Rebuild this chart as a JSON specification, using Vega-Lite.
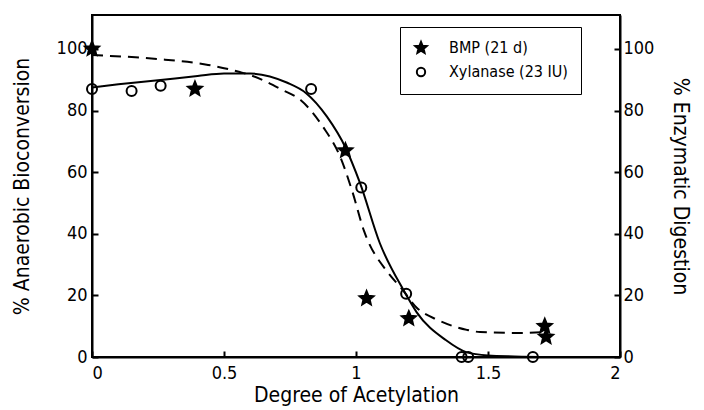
{
  "$schema": "https://vega.github.io/schema/vega-lite/v6.json",
  "width": 528,
  "height": 342,
  "autosize": "none",
  "padding": {"left": 92, "top": 15, "right": 84, "bottom": 53},
  "background": "white",
  "config": {
    "font": "Liberation Sans Narrow, DejaVu Sans Condensed, sans-serif",
    "view": {"stroke": "black", "strokeWidth": 2},
    "axis": {
      "domainColor": "black", "domainWidth": 2, "tickColor": "black", "tickWidth": 2,
      "tickSize": -6, "grid": false, "labelColor": "black", "labelFontSize": 18,
      "titleColor": "black", "titleFontSize": 21, "titleFontWeight": "normal",
      "labelFont": "Liberation Sans Narrow, DejaVu Sans Condensed, sans-serif",
      "titleFont": "Liberation Sans Narrow, DejaVu Sans Condensed, sans-serif"
    }
  },
  "datasets": {
    "pts": [
      {"dac": 0, "pct": 100, "series": "BMP (21 d)"},
      {"dac": 0.39, "pct": 87, "series": "BMP (21 d)"},
      {"dac": 0.96, "pct": 67, "series": "BMP (21 d)"},
      {"dac": 1.04, "pct": 19, "series": "BMP (21 d)"},
      {"dac": 1.2, "pct": 12.5, "series": "BMP (21 d)"},
      {"dac": 1.715, "pct": 10, "series": "BMP (21 d)"},
      {"dac": 1.72, "pct": 6.5, "series": "BMP (21 d)"},
      {"dac": 0, "pct": 87, "series": "Xylanase (23 IU)"},
      {"dac": 0.15, "pct": 86.3, "series": "Xylanase (23 IU)"},
      {"dac": 0.26, "pct": 88, "series": "Xylanase (23 IU)"},
      {"dac": 0.83, "pct": 87, "series": "Xylanase (23 IU)"},
      {"dac": 1.02, "pct": 55, "series": "Xylanase (23 IU)"},
      {"dac": 1.19, "pct": 20.5, "series": "Xylanase (23 IU)"},
      {"dac": 1.4, "pct": 0, "series": "Xylanase (23 IU)"},
      {"dac": 1.425, "pct": 0, "series": "Xylanase (23 IU)"},
      {"dac": 1.67, "pct": 0, "series": "Xylanase (23 IU)"}
    ],
    "solid": [
      {"dac": 0, "pct": 87.5}, {"dac": 0.1, "pct": 88.5}, {"dac": 0.25, "pct": 89.8},
      {"dac": 0.4, "pct": 91.2}, {"dac": 0.5, "pct": 92}, {"dac": 0.6, "pct": 92},
      {"dac": 0.74, "pct": 89}, {"dac": 0.81, "pct": 85.7}, {"dac": 0.89, "pct": 78},
      {"dac": 0.96, "pct": 68}, {"dac": 1.015, "pct": 56.5}, {"dac": 1.09, "pct": 37},
      {"dac": 1.18, "pct": 21.7}, {"dac": 1.23, "pct": 14.5}, {"dac": 1.34, "pct": 5.5},
      {"dac": 1.42, "pct": 1.5}, {"dac": 1.5, "pct": 0.5}, {"dac": 1.6, "pct": 0.2},
      {"dac": 1.75, "pct": 0}
    ],
    "dashed": [
      {"dac": 0, "pct": 98}, {"dac": 0.25, "pct": 96.7}, {"dac": 0.44, "pct": 94.8},
      {"dac": 0.56, "pct": 92.5}, {"dac": 0.6, "pct": 91.5}, {"dac": 0.72, "pct": 86.7},
      {"dac": 0.79, "pct": 83.4}, {"dac": 0.875, "pct": 74.7}, {"dac": 0.94, "pct": 65},
      {"dac": 0.985, "pct": 54}, {"dac": 1.03, "pct": 41}, {"dac": 1.12, "pct": 27.5},
      {"dac": 1.17, "pct": 22.5}, {"dac": 1.23, "pct": 16}, {"dac": 1.31, "pct": 12},
      {"dac": 1.42, "pct": 8.8}, {"dac": 1.47, "pct": 8.1}, {"dac": 1.61, "pct": 7.8},
      {"dac": 1.71, "pct": 8.1}
    ]
  },
  "resolve": {"axis": {"y": "independent"}},
  "layer": [
    {
      "data": {"name": "solid"},
      "mark": {"type": "line", "color": "black", "strokeWidth": 2, "interpolate": "monotone"},
      "encoding": {
        "x": {"field": "dac", "type": "quantitative", "scale": {"domain": [0, 2], "nice": false},
              "axis": {"title": "Degree of Acetylation", "values": [0, 0.5, 1, 1.5, 2], "format": "~g", "labelPadding": 13, "titlePadding": 2}},
        "y": {"field": "pct", "type": "quantitative", "scale": {"domain": [0, 111], "nice": false},
              "axis": {"title": "% Anaerobic Bioconversion", "values": [0, 20, 40, 60, 80, 100], "labelPadding": 11, "titlePadding": 24}}
      }
    },
    {
      "data": {"name": "dashed"},
      "mark": {"type": "line", "color": "black", "strokeWidth": 2, "strokeDash": [11, 7], "interpolate": "monotone"},
      "encoding": {
        "x": {"field": "dac", "type": "quantitative"},
        "y": {"field": "pct", "type": "quantitative",
              "axis": {"orient": "right", "title": "% Enzymatic Digestion", "values": [0, 20, 40, 60, 80, 100], "labelPadding": 9, "titlePadding": 16}}
      }
    },
    {
      "data": {"name": "pts"},
      "mark": {"type": "point", "stroke": "black", "strokeWidth": 2, "opacity": 1, "size": 100},
      "encoding": {
        "x": {"field": "dac", "type": "quantitative"},
        "y": {"field": "pct", "type": "quantitative", "axis": null},
        "shape": {"field": "series", "type": "nominal",
                  "scale": {"domain": ["BMP (21 d)", "Xylanase (23 IU)"],
                            "range": ["M0,-1.45L0.384,-0.528L1.379,-0.448L0.621,0.202L0.853,1.173L0,0.653L-0.853,1.173L-0.621,0.202L-1.379,-0.448L-0.384,-0.528Z", "circle"]},
                  "legend": {"title": null, "orient": "none", "legendX": 308, "legendY": 12,
                             "strokeColor": "black", "padding": 13, "labelFontSize": 16,
                             "labelColor": "black", "rowPadding": 6, "symbolStrokeWidth": 2, "labelOffset": 20, "symbolSize": 70}},
        "fill": {"field": "series", "type": "nominal",
                 "scale": {"domain": ["BMP (21 d)", "Xylanase (23 IU)"], "range": ["black", "rgba(0,0,0,0)"]},
                 "legend": {"title": null, "orient": "none", "legendX": 308, "legendY": 12,
                            "strokeColor": "black", "padding": 13, "labelFontSize": 16,
                            "labelColor": "black", "rowPadding": 6, "symbolStrokeWidth": 2, "labelOffset": 20, "symbolSize": 70}}
      }
    }
  ]
}
